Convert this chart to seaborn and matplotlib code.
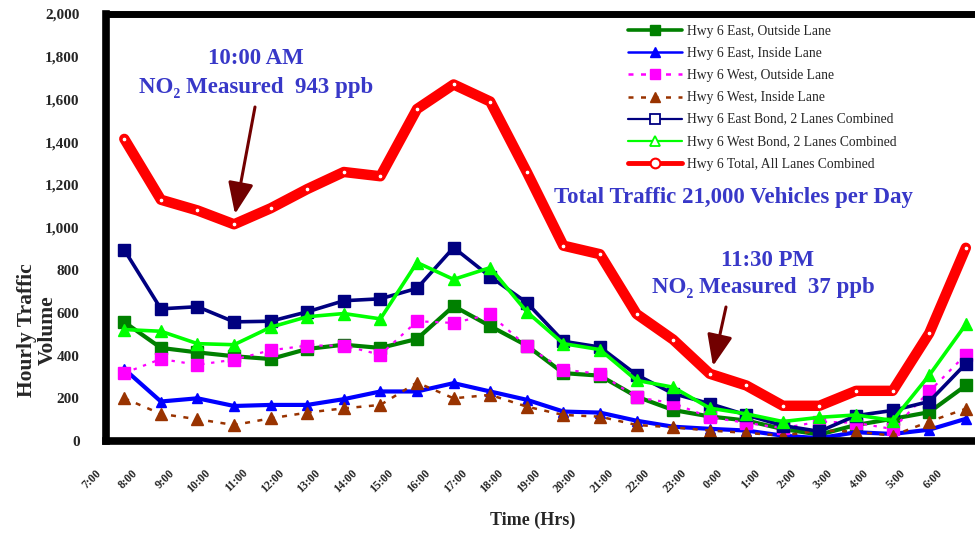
import numpy as np
import pandas as pd
import matplotlib
matplotlib.use("Agg")
import matplotlib.pyplot as plt
import matplotlib.transforms as mtransforms
from matplotlib.lines import Line2D
import seaborn as sns

# ---------------- data ----------------
hours = ["7:00", "8:00", "9:00", "10:00", "11:00", "12:00", "13:00", "14:00",
         "15:00", "16:00", "17:00", "18:00", "19:00", "20:00", "21:00", "22:00",
         "23:00", "0:00", "1:00", "2:00", "3:00", "4:00", "5:00", "6:00"]

east_outside = [557, 436, 415, 397, 384, 431, 451, 436, 478, 632, 538, 447,
                318, 306, 208, 145, 115, 96, 56, 30, 75, 104, 135, 260]
east_inside = [337, 185, 200, 164, 169, 169, 196, 232, 232, 271, 232, 193,
               138, 133, 95, 67, 57, 49, 25, 13, 41, 33, 53, 104]
west_outside = [318, 384, 357, 381, 425, 447, 447, 404, 561, 553, 593, 444,
                334, 315, 205, 177, 111, 85, 60, 91, 85, 56, 232, 405]
west_inside = [200, 127, 102, 75, 106, 133, 153, 169, 274, 200, 216, 161,
               122, 114, 75, 64, 49, 38, 25, 49, 44, 25, 91, 151]
east_comb = [895, 619, 629, 558, 561, 605, 657, 666, 715, 906, 770, 648,
             467, 440, 310, 222, 175, 122, 72, 45, 119, 143, 185, 362]
west_comb = [522, 514, 456, 451, 533, 582, 597, 572, 836, 757, 812, 605,
             456, 428, 284, 252, 154, 127, 91, 111, 122, 96, 308, 546]
total = [1415, 1130, 1080, 1015, 1090, 1180, 1260, 1240, 1555, 1670, 1590, 1260,
         915, 875, 595, 475, 315, 260, 165, 165, 235, 235, 505, 905]

series_names = ["Hwy 6 East, Outside Lane", "Hwy 6 East, Inside Lane",
                "Hwy 6 West, Outside Lane", "Hwy 6 West, Inside Lane",
                "Hwy 6 East Bond, 2 Lanes Combined", "Hwy 6 West Bond, 2 Lanes Combined",
                "Hwy 6 Total, All Lanes Combined"]
series_values = [east_outside, east_inside, west_outside, west_inside,
                 east_comb, west_comb, total]

# ---------------- figure ----------------
W, H = 975, 534
sns.set_theme(style="white")
plt.rcParams["font.family"] = ["Liberation Serif", "DejaVu Serif"]

fig = plt.figure(figsize=(W / 100, H / 100), dpi=100)
ax = fig.add_axes([106 / W, 1 - 441 / H, 1 - 106 / W, (441 - 14) / H])

pos = np.arange(len(hours)) + 0.5

styles = [
    dict(color="#008000", lw=3.0, marker="s", ms=8, ls="-", mfc="#008000", mec="#008000"),
    dict(color="#0000ff", lw=3.0, marker="^", ms=7, ls="-", mfc="#0000ff", mec="#0000ff"),
    dict(color="#ff00ff", lw=1.6, marker="s", ms=9, ls=(0, (1.5, 3)), mfc="#ff00ff", mec="#ff00ff"),
    dict(color="#993300", lw=1.8, marker="^", ms=8, ls=(0, (2, 3)), mfc="#993300", mec="#993300"),
    dict(color="#000080", lw=2.6, marker="s", ms=8.5, ls="-", mfc="#000080", mec="#000080"),
    dict(color="#00ff00", lw=2.6, marker="^", ms=8, ls="-", mfc="#00ff00", mec="#00ff00"),
    dict(color="#ff0000", lw=7.5, marker="o", ms=3.5, ls="-", mfc="white", mec="#ff0000", mew=0.8),
]

for name, vals, st in zip(series_names, series_values, styles):
    df = pd.DataFrame({"pos": pos, "val": vals})
    st = dict(st)
    color = st.pop("color")
    ls = st.pop("ls")
    lw = st.pop("lw")
    sns.lineplot(data=df, x="pos", y="val", ax=ax, color=color, linestyle=ls,
                 linewidth=lw, markeredgewidth=st.pop("mew", 1), **st)

ax.set_xlim(0, 23.75)
ax.set_ylim(0, 2000)
ax.set_xticks(np.arange(len(hours)))
ax.set_xticklabels([])
lab_tr = mtransforms.offset_copy(ax.get_xaxis_transform(), fig=fig, x=-11, y=-26, units="dots")
for i, h in enumerate(hours):
    ax.text(i, 0, h, transform=lab_tr, rotation=45, ha="right", va="top",
            rotation_mode="anchor", fontsize=8.5, fontweight="bold", clip_on=False)

yt = np.arange(0, 2001, 200)
ax.set_yticks(yt)
ax.set_yticklabels([f"{v:,}" for v in yt], fontsize=11, fontweight="bold")
ax.tick_params(axis="x", length=5, width=3, direction="out", color="black")
ax.tick_params(axis="y", length=5, width=3, direction="out", pad=14, color="black")
ax.set_xlabel("")
ax.set_ylabel("")

for side in ["left", "bottom"]:
    ax.spines[side].set_linewidth(5.5)
    ax.spines[side].set_color("black")
ax.spines["top"].set_linewidth(5)
ax.spines["top"].set_color("black")
ax.spines["right"].set_visible(False)

# axis titles
fig.text(37 / W, 1 - 330 / H, "Hourly Traffic\nVolume", rotation=90, ha="center",
         va="center", fontsize=15.5, fontweight="bold", linespacing=1.05)
fig.text(533 / W, 1 - 520 / H, "Time (Hrs)", ha="center", va="center",
         fontsize=13, fontweight="bold")

# legend
handles = [
    Line2D([], [], color="#008000", lw=2.6, marker="s", ms=7.5, mfc="#008000", mec="#008000"),
    Line2D([], [], color="#0000ff", lw=1.8, marker="^", ms=7.5, mfc="#0000ff", mec="#0000ff"),
    Line2D([], [], color="#ff00ff", lw=1.8, ls=(0, (2, 3)), marker="s", ms=7.5, mfc="#ff00ff", mec="#ff00ff"),
    Line2D([], [], color="#993300", lw=1.8, ls=(0, (2, 3)), marker="^", ms=7.5, mfc="#993300", mec="#993300"),
    Line2D([], [], color="#000080", lw=1.6, marker="s", ms=6.5, mfc="white", mec="#000080", mew=1.3),
    Line2D([], [], color="#00ff00", lw=1.6, marker="^", ms=6.5, mfc="white", mec="#00ff00", mew=1.3),
    Line2D([], [], color="#ff0000", lw=3.5, marker="o", ms=7, mfc="white", mec="#ff0000", mew=1.5),
]
leg = ax.legend(handles, series_names, loc="upper left",
                bbox_to_anchor=(628 / W, 1 - 25 / H), bbox_transform=fig.transFigure,
                frameon=False, fontsize=9.8, handlelength=4.0, handletextpad=0.3,
                labelspacing=0.67, borderaxespad=0, borderpad=0)

# annotations
blue = "#3838c8"
fs_ann = 16.5
fig.text(256 / W, 1 - 58 / H, "10:00 AM", ha="center", va="center", color=blue,
         fontsize=fs_ann, fontweight="bold")
fig.text(256 / W, 1 - 88 / H, "NO\u2082 Measured  943 ppb", ha="center", va="center",
         color=blue, fontsize=fs_ann, fontweight="bold")
fig.text(734 / W, 1 - 197 / H, "Total Traffic 21,000 Vehicles per Day", ha="center",
         va="center", color=blue, fontsize=fs_ann, fontweight="bold")
fig.text(768 / W, 1 - 260 / H, "11:30 PM", ha="center", va="center", color=blue,
         fontsize=fs_ann, fontweight="bold")
fig.text(763 / W, 1 - 288 / H, "NO\u2082 Measured  37 ppb", ha="center", va="center",
         color=blue, fontsize=fs_ann, fontweight="bold")

arrow_kw = dict(arrowstyle="-|>,head_length=1.6,head_width=0.65", color="#720000", lw=2.2,
                shrinkA=0, shrinkB=0)
fig.patches.append(matplotlib.patches.FancyArrowPatch(
    (255 / W, 1 - 107 / H), (235 / W, 1 - 214 / H), transform=fig.transFigure,
    mutation_scale=12, **arrow_kw))
fig.patches.append(matplotlib.patches.FancyArrowPatch(
    (726 / W, 1 - 307 / H), (713 / W, 1 - 366 / H), transform=fig.transFigure,
    mutation_scale=12, **arrow_kw))

fig.savefig("out.png", dpi=100)
